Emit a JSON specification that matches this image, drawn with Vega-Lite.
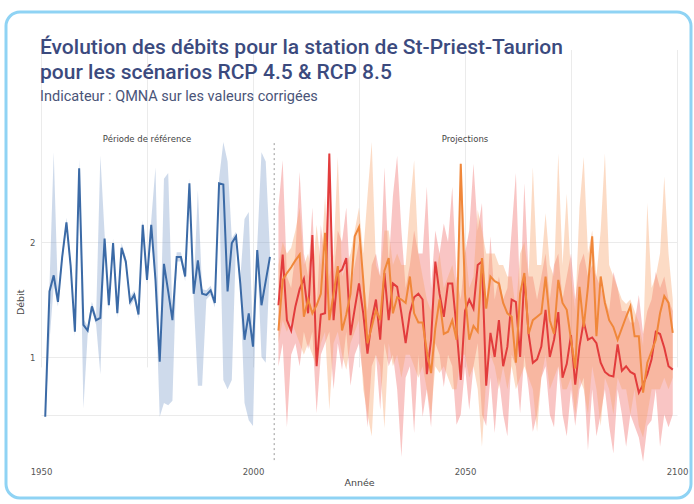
{
  "$schema": "https://vega.github.io/schema/vega-lite/v6.json",
  "autosize": "none",
  "width": 685,
  "height": 486,
  "padding": {"left": 6, "top": 12, "right": 3, "bottom": 6},
  "background": "white",
  "config": {
    "view": {"stroke": "#8fd3f4", "strokeWidth": 3, "cornerRadius": 14, "fill": "white"},
    "axis": {"domain": false, "ticks": false, "gridColor": "#ebebeb", "labelColor": "#555555", "titleColor": "#444444", "labelFont": "DejaVu Sans", "titleFont": "DejaVu Sans", "labelFontSize": 8.5, "titleFontSize": 9.5, "titleFontWeight": "normal"}
  },
  "title": {
    "text": ["Évolution des débits pour la station de St-Priest-Taurion", "pour les scénarios RCP 4.5 & RCP 8.5"],
    "subtitle": "Indicateur : QMNA sur les valeurs corrigées",
    "anchor": "start", "frame": "group", "orient": "top",
    "dx": 34, "offset": -91,
    "font": "Roboto", "fontSize": 21, "fontWeight": 500, "color": "#3b4a7e", "lineHeight": 25,
    "subtitleFont": "Roboto", "subtitleFontSize": 14.5, "subtitleColor": "#4a5478", "subtitlePadding": 7
  },
  "datasets": {
    "series": [
      {"annee":1951,"scenario":"Référence","debit":0.48,"min":0.47,"max":0.50},
      {"annee":1952,"scenario":"Référence","debit":1.57,"min":1.13,"max":1.62},
      {"annee":1953,"scenario":"Référence","debit":1.71,"min":1.62,"max":2.78},
      {"annee":1954,"scenario":"Référence","debit":1.48,"min":1.44,"max":1.53},
      {"annee":1955,"scenario":"Référence","debit":1.87,"min":1.83,"max":1.91},
      {"annee":1956,"scenario":"Référence","debit":2.17,"min":2.12,"max":2.21},
      {"annee":1957,"scenario":"Référence","debit":1.79,"min":1.75,"max":1.83},
      {"annee":1958,"scenario":"Référence","debit":1.22,"min":1.18,"max":1.26},
      {"annee":1959,"scenario":"Référence","debit":2.64,"min":2.58,"max":2.72},
      {"annee":1960,"scenario":"Référence","debit":1.28,"min":0.55,"max":1.33},
      {"annee":1961,"scenario":"Référence","debit":1.23,"min":1.19,"max":1.27},
      {"annee":1962,"scenario":"Référence","debit":1.44,"min":1.40,"max":1.48},
      {"annee":1963,"scenario":"Référence","debit":1.32,"min":1.28,"max":1.36},
      {"annee":1964,"scenario":"Référence","debit":1.34,"min":0.85,"max":2.75},
      {"annee":1965,"scenario":"Référence","debit":2.03,"min":1.99,"max":2.07},
      {"annee":1966,"scenario":"Référence","debit":1.45,"min":1.41,"max":1.49},
      {"annee":1967,"scenario":"Référence","debit":1.99,"min":1.95,"max":2.03},
      {"annee":1968,"scenario":"Référence","debit":1.38,"min":1.34,"max":1.42},
      {"annee":1969,"scenario":"Référence","debit":1.95,"min":1.91,"max":1.99},
      {"annee":1970,"scenario":"Référence","debit":1.83,"min":1.79,"max":1.87},
      {"annee":1971,"scenario":"Référence","debit":1.48,"min":1.44,"max":1.52},
      {"annee":1972,"scenario":"Référence","debit":1.54,"min":1.50,"max":1.58},
      {"annee":1973,"scenario":"Référence","debit":1.37,"min":1.33,"max":1.41},
      {"annee":1974,"scenario":"Référence","debit":2.15,"min":2.11,"max":2.19},
      {"annee":1975,"scenario":"Référence","debit":1.67,"min":1.63,"max":1.71},
      {"annee":1976,"scenario":"Référence","debit":2.15,"min":2.11,"max":2.19},
      {"annee":1977,"scenario":"Référence","debit":1.67,"min":1.60,"max":2.65},
      {"annee":1978,"scenario":"Référence","debit":0.96,"min":0.48,"max":1.00},
      {"annee":1979,"scenario":"Référence","debit":1.81,"min":0.60,"max":2.55},
      {"annee":1980,"scenario":"Référence","debit":1.57,"min":0.58,"max":2.60},
      {"annee":1981,"scenario":"Référence","debit":1.32,"min":0.62,"max":1.36},
      {"annee":1982,"scenario":"Référence","debit":1.87,"min":1.83,"max":1.91},
      {"annee":1983,"scenario":"Référence","debit":1.87,"min":1.83,"max":1.91},
      {"annee":1984,"scenario":"Référence","debit":1.70,"min":1.66,"max":1.74},
      {"annee":1985,"scenario":"Référence","debit":2.51,"min":2.47,"max":2.55},
      {"annee":1986,"scenario":"Référence","debit":1.55,"min":1.51,"max":1.59},
      {"annee":1987,"scenario":"Référence","debit":1.84,"min":0.75,"max":2.45},
      {"annee":1988,"scenario":"Référence","debit":1.55,"min":0.75,"max":1.59},
      {"annee":1989,"scenario":"Référence","debit":1.54,"min":1.50,"max":1.58},
      {"annee":1990,"scenario":"Référence","debit":1.58,"min":1.54,"max":1.62},
      {"annee":1991,"scenario":"Référence","debit":1.47,"min":1.43,"max":1.51},
      {"annee":1992,"scenario":"Référence","debit":2.51,"min":2.47,"max":2.55},
      {"annee":1993,"scenario":"Référence","debit":2.50,"min":0.80,"max":2.87},
      {"annee":1994,"scenario":"Référence","debit":1.57,"min":0.72,"max":2.70},
      {"annee":1995,"scenario":"Référence","debit":1.99,"min":0.80,"max":2.03},
      {"annee":1996,"scenario":"Référence","debit":2.05,"min":2.01,"max":2.09},
      {"annee":1997,"scenario":"Référence","debit":1.64,"min":1.60,"max":1.68},
      {"annee":1998,"scenario":"Référence","debit":1.15,"min":0.60,"max":2.20},
      {"annee":1999,"scenario":"Référence","debit":1.38,"min":0.45,"max":2.26},
      {"annee":2000,"scenario":"Référence","debit":1.09,"min":0.40,"max":1.13},
      {"annee":2001,"scenario":"Référence","debit":1.93,"min":1.89,"max":1.97},
      {"annee":2002,"scenario":"Référence","debit":1.45,"min":1.00,"max":2.78},
      {"annee":2003,"scenario":"Référence","debit":1.66,"min":0.95,"max":2.70},
      {"annee":2004,"scenario":"Référence","debit":1.87,"min":1.83,"max":1.91},
      {"annee":2006,"scenario":"RCP 8.5","debit":1.45,"min":0.92,"max":2.30},{"annee":2006,"scenario":"RCP 4.5","debit":1.23,"min":1.12,"max":1.80},
      {"annee":2007,"scenario":"RCP 8.5","debit":1.89,"min":1.12,"max":2.71},{"annee":2007,"scenario":"RCP 4.5","debit":1.67,"min":1.32,"max":2.00},
      {"annee":2008,"scenario":"RCP 8.5","debit":1.32,"min":0.39,"max":1.70},{"annee":2008,"scenario":"RCP 4.5","debit":1.73,"min":1.22,"max":1.90},
      {"annee":2009,"scenario":"RCP 8.5","debit":1.23,"min":1.02,"max":1.60},{"annee":2009,"scenario":"RCP 4.5","debit":1.78,"min":1.32,"max":1.95},
      {"annee":2010,"scenario":"RCP 8.5","debit":1.44,"min":1.12,"max":1.90},{"annee":2010,"scenario":"RCP 4.5","debit":1.84,"min":1.22,"max":2.10},
      {"annee":2011,"scenario":"RCP 8.5","debit":1.59,"min":0.92,"max":2.61},{"annee":2011,"scenario":"RCP 4.5","debit":1.89,"min":1.12,"max":2.30},
      {"annee":2012,"scenario":"RCP 8.5","debit":1.68,"min":1.22,"max":1.90},{"annee":2012,"scenario":"RCP 4.5","debit":1.35,"min":1.02,"max":1.80},
      {"annee":2013,"scenario":"RCP 8.5","debit":1.38,"min":1.07,"max":1.70},{"annee":2013,"scenario":"RCP 4.5","debit":1.50,"min":1.12,"max":1.90},
      {"annee":2014,"scenario":"RCP 8.5","debit":2.06,"min":1.22,"max":2.30},{"annee":2014,"scenario":"RCP 4.5","debit":1.38,"min":1.02,"max":1.70},
      {"annee":2015,"scenario":"RCP 8.5","debit":0.92,"min":0.51,"max":1.40},{"annee":2015,"scenario":"RCP 4.5","debit":1.45,"min":0.92,"max":2.15},
      {"annee":2016,"scenario":"RCP 8.5","debit":1.37,"min":1.02,"max":2.15},{"annee":2016,"scenario":"RCP 4.5","debit":1.55,"min":1.12,"max":1.80},
      {"annee":2017,"scenario":"RCP 8.5","debit":1.38,"min":1.12,"max":1.80},{"annee":2017,"scenario":"RCP 4.5","debit":2.08,"min":1.22,"max":2.40},
      {"annee":2018,"scenario":"RCP 8.5","debit":2.77,"min":1.22,"max":2.80},{"annee":2018,"scenario":"RCP 4.5","debit":1.32,"min":0.54,"max":1.70},
      {"annee":2019,"scenario":"RCP 8.5","debit":1.32,"min":0.72,"max":1.70},{"annee":2019,"scenario":"RCP 4.5","debit":1.55,"min":1.12,"max":1.90},
      {"annee":2020,"scenario":"RCP 8.5","debit":1.73,"min":1.12,"max":2.10},{"annee":2020,"scenario":"RCP 4.5","debit":1.79,"min":1.22,"max":2.74},
      {"annee":2021,"scenario":"RCP 8.5","debit":1.76,"min":0.89,"max":2.00},{"annee":2021,"scenario":"RCP 4.5","debit":1.23,"min":1.02,"max":1.70},
      {"annee":2022,"scenario":"RCP 8.5","debit":1.86,"min":1.22,"max":2.30},{"annee":2022,"scenario":"RCP 4.5","debit":1.37,"min":0.89,"max":1.80},
      {"annee":2023,"scenario":"RCP 8.5","debit":1.19,"min":0.75,"max":1.60},{"annee":2023,"scenario":"RCP 4.5","debit":1.55,"min":1.12,"max":1.90},
      {"annee":2024,"scenario":"RCP 8.5","debit":1.42,"min":1.02,"max":1.80},{"annee":2024,"scenario":"RCP 4.5","debit":2.05,"min":1.22,"max":2.10},
      {"annee":2025,"scenario":"RCP 8.5","debit":1.64,"min":1.12,"max":2.00},{"annee":2025,"scenario":"RCP 4.5","debit":2.13,"min":1.32,"max":2.30},
      {"annee":2026,"scenario":"RCP 8.5","debit":1.38,"min":0.82,"max":1.70},{"annee":2026,"scenario":"RCP 4.5","debit":1.67,"min":0.72,"max":1.90},
      {"annee":2027,"scenario":"RCP 8.5","debit":1.03,"min":0.39,"max":1.40},{"annee":2027,"scenario":"RCP 4.5","debit":1.12,"min":0.50,"max":2.40},
      {"annee":2028,"scenario":"RCP 8.5","debit":1.32,"min":0.92,"max":1.80},{"annee":2028,"scenario":"RCP 4.5","debit":1.26,"min":0.31,"max":2.87},
      {"annee":2029,"scenario":"RCP 8.5","debit":1.50,"min":1.02,"max":1.90},{"annee":2029,"scenario":"RCP 4.5","debit":1.41,"min":1.02,"max":1.80},
      {"annee":2030,"scenario":"RCP 8.5","debit":1.15,"min":0.54,"max":1.70},{"annee":2030,"scenario":"RCP 4.5","debit":1.32,"min":0.92,"max":1.70},
      {"annee":2031,"scenario":"RCP 8.5","debit":1.73,"min":1.12,"max":2.65},{"annee":2031,"scenario":"RCP 4.5","debit":1.75,"min":0.38,"max":2.10},
      {"annee":2032,"scenario":"RCP 8.5","debit":1.32,"min":0.92,"max":1.80},{"annee":2032,"scenario":"RCP 4.5","debit":1.86,"min":1.12,"max":2.10},
      {"annee":2033,"scenario":"RCP 8.5","debit":1.64,"min":1.02,"max":2.40},{"annee":2033,"scenario":"RCP 4.5","debit":1.38,"min":0.92,"max":1.80},
      {"annee":2034,"scenario":"RCP 8.5","debit":1.61,"min":0.72,"max":2.75},{"annee":2034,"scenario":"RCP 4.5","debit":1.52,"min":1.02,"max":1.90},
      {"annee":2035,"scenario":"RCP 8.5","debit":1.38,"min":0.13,"max":2.10},{"annee":2035,"scenario":"RCP 4.5","debit":1.50,"min":0.82,"max":1.80},
      {"annee":2036,"scenario":"RCP 8.5","debit":1.12,"min":0.82,"max":1.60},{"annee":2036,"scenario":"RCP 4.5","debit":1.47,"min":1.02,"max":1.80},
      {"annee":2037,"scenario":"RCP 8.5","debit":1.38,"min":0.92,"max":1.80},{"annee":2037,"scenario":"RCP 4.5","debit":1.70,"min":1.02,"max":2.30},
      {"annee":2038,"scenario":"RCP 8.5","debit":1.52,"min":0.34,"max":2.10},{"annee":2038,"scenario":"RCP 4.5","debit":1.38,"min":0.92,"max":2.71},
      {"annee":2039,"scenario":"RCP 8.5","debit":1.55,"min":1.02,"max":1.90},{"annee":2039,"scenario":"RCP 4.5","debit":1.30,"min":0.82,"max":1.90},
      {"annee":2040,"scenario":"RCP 8.5","debit":1.50,"min":0.48,"max":1.90},{"annee":2040,"scenario":"RCP 4.5","debit":1.30,"min":0.92,"max":1.70},
      {"annee":2041,"scenario":"RCP 8.5","debit":0.85,"min":0.72,"max":2.48},{"annee":2041,"scenario":"RCP 4.5","debit":1.05,"min":0.72,"max":1.50},
      {"annee":2042,"scenario":"RCP 8.5","debit":1.15,"min":0.39,"max":1.60},{"annee":2042,"scenario":"RCP 4.5","debit":0.86,"min":0.50,"max":1.40},
      {"annee":2043,"scenario":"RCP 8.5","debit":1.83,"min":1.12,"max":2.10},{"annee":2043,"scenario":"RCP 4.5","debit":1.25,"min":0.92,"max":1.70},
      {"annee":2044,"scenario":"RCP 8.5","debit":1.55,"min":1.02,"max":1.90},{"annee":2044,"scenario":"RCP 4.5","debit":1.50,"min":0.86,"max":1.90},
      {"annee":2045,"scenario":"RCP 8.5","debit":1.35,"min":0.74,"max":2.16},{"annee":2045,"scenario":"RCP 4.5","debit":1.20,"min":0.92,"max":1.60},
      {"annee":2046,"scenario":"RCP 8.5","debit":1.64,"min":1.02,"max":2.00},{"annee":2046,"scenario":"RCP 4.5","debit":1.22,"min":0.82,"max":1.70},
      {"annee":2047,"scenario":"RCP 8.5","debit":1.64,"min":0.92,"max":2.48},{"annee":2047,"scenario":"RCP 4.5","debit":1.32,"min":0.72,"max":1.80},
      {"annee":2048,"scenario":"RCP 8.5","debit":1.25,"min":0.41,"max":1.70},{"annee":2048,"scenario":"RCP 4.5","debit":1.15,"min":0.72,"max":1.60},
      {"annee":2049,"scenario":"RCP 8.5","debit":0.80,"min":0.50,"max":1.50},{"annee":2049,"scenario":"RCP 4.5","debit":2.68,"min":1.02,"max":2.70},
      {"annee":2050,"scenario":"RCP 8.5","debit":1.40,"min":0.92,"max":1.90},{"annee":2050,"scenario":"RCP 4.5","debit":1.55,"min":1.02,"max":2.00},
      {"annee":2051,"scenario":"RCP 8.5","debit":1.50,"min":0.54,"max":2.10},{"annee":2051,"scenario":"RCP 4.5","debit":1.15,"min":0.82,"max":1.60},
      {"annee":2052,"scenario":"RCP 8.5","debit":1.42,"min":0.92,"max":2.68},{"annee":2052,"scenario":"RCP 4.5","debit":1.27,"min":0.92,"max":1.70},
      {"annee":2053,"scenario":"RCP 8.5","debit":1.80,"min":1.12,"max":2.10},{"annee":2053,"scenario":"RCP 4.5","debit":1.22,"min":0.72,"max":2.28},
      {"annee":2054,"scenario":"RCP 8.5","debit":1.83,"min":0.50,"max":2.34},{"annee":2054,"scenario":"RCP 4.5","debit":1.86,"min":0.22,"max":2.10},
      {"annee":2055,"scenario":"RCP 8.5","debit":0.75,"min":0.40,"max":1.40},{"annee":2055,"scenario":"RCP 4.5","debit":1.42,"min":0.82,"max":1.90},
      {"annee":2056,"scenario":"RCP 8.5","debit":1.21,"min":0.82,"max":2.05},{"annee":2056,"scenario":"RCP 4.5","debit":1.70,"min":1.02,"max":1.90},
      {"annee":2057,"scenario":"RCP 8.5","debit":1.00,"min":0.34,"max":1.50},{"annee":2057,"scenario":"RCP 4.5","debit":1.66,"min":0.92,"max":1.90},
      {"annee":2058,"scenario":"RCP 8.5","debit":1.32,"min":0.82,"max":1.70},{"annee":2058,"scenario":"RCP 4.5","debit":1.64,"min":0.72,"max":1.80},
      {"annee":2059,"scenario":"RCP 8.5","debit":0.92,"min":0.50,"max":1.50},{"annee":2059,"scenario":"RCP 4.5","debit":1.47,"min":0.92,"max":1.80},
      {"annee":2060,"scenario":"RCP 8.5","debit":1.09,"min":0.31,"max":1.60},{"annee":2060,"scenario":"RCP 4.5","debit":1.38,"min":0.72,"max":1.70},
      {"annee":2061,"scenario":"RCP 8.5","debit":1.50,"min":1.02,"max":2.10},{"annee":2061,"scenario":"RCP 4.5","debit":1.35,"min":0.92,"max":1.70},
      {"annee":2062,"scenario":"RCP 8.5","debit":1.48,"min":0.92,"max":2.60},{"annee":2062,"scenario":"RCP 4.5","debit":0.95,"min":0.72,"max":1.40},
      {"annee":2063,"scenario":"RCP 8.5","debit":1.00,"min":0.51,"max":1.50},{"annee":2063,"scenario":"RCP 4.5","debit":1.55,"min":0.82,"max":1.90},
      {"annee":2064,"scenario":"RCP 8.5","debit":1.70,"min":1.02,"max":2.51},{"annee":2064,"scenario":"RCP 4.5","debit":1.73,"min":0.92,"max":2.00},
      {"annee":2065,"scenario":"RCP 8.5","debit":1.20,"min":0.72,"max":1.70},{"annee":2065,"scenario":"RCP 4.5","debit":1.20,"min":0.82,"max":1.70},
      {"annee":2066,"scenario":"RCP 8.5","debit":0.95,"min":0.35,"max":1.70},{"annee":2066,"scenario":"RCP 4.5","debit":1.32,"min":0.72,"max":2.65},
      {"annee":2067,"scenario":"RCP 8.5","debit":0.98,"min":0.50,"max":1.50},{"annee":2067,"scenario":"RCP 4.5","debit":1.35,"min":0.35,"max":1.80},
      {"annee":2068,"scenario":"RCP 8.5","debit":1.09,"min":0.82,"max":1.70},{"annee":2068,"scenario":"RCP 4.5","debit":1.38,"min":0.82,"max":1.80},
      {"annee":2069,"scenario":"RCP 8.5","debit":1.41,"min":0.92,"max":1.90},{"annee":2069,"scenario":"RCP 4.5","debit":1.70,"min":1.02,"max":2.25},
      {"annee":2070,"scenario":"RCP 8.5","debit":1.00,"min":0.50,"max":1.50},{"annee":2070,"scenario":"RCP 4.5","debit":1.32,"min":0.72,"max":1.80},
      {"annee":2071,"scenario":"RCP 8.5","debit":1.15,"min":0.39,"max":1.80},{"annee":2071,"scenario":"RCP 4.5","debit":1.20,"min":0.82,"max":1.70},
      {"annee":2072,"scenario":"RCP 8.5","debit":1.39,"min":0.92,"max":1.90},{"annee":2072,"scenario":"RCP 4.5","debit":1.67,"min":0.92,"max":2.77},
      {"annee":2073,"scenario":"RCP 8.5","debit":0.82,"min":0.50,"max":1.50},{"annee":2073,"scenario":"RCP 4.5","debit":1.47,"min":0.72,"max":1.80},
      {"annee":2074,"scenario":"RCP 8.5","debit":0.94,"min":0.31,"max":1.70},{"annee":2074,"scenario":"RCP 4.5","debit":1.41,"min":0.72,"max":2.42},
      {"annee":2075,"scenario":"RCP 8.5","debit":1.19,"min":0.72,"max":1.90},{"annee":2075,"scenario":"RCP 4.5","debit":1.15,"min":0.82,"max":1.70},
      {"annee":2076,"scenario":"RCP 8.5","debit":0.76,"min":0.40,"max":1.50},{"annee":2076,"scenario":"RCP 4.5","debit":0.90,"min":0.50,"max":1.40},
      {"annee":2077,"scenario":"RCP 8.5","debit":1.09,"min":0.72,"max":1.80},{"annee":2077,"scenario":"RCP 4.5","debit":1.61,"min":0.82,"max":2.30},
      {"annee":2078,"scenario":"RCP 8.5","debit":1.31,"min":0.82,"max":1.90},{"annee":2078,"scenario":"RCP 4.5","debit":1.26,"min":0.72,"max":2.74},
      {"annee":2079,"scenario":"RCP 8.5","debit":1.15,"min":0.19,"max":1.70},{"annee":2079,"scenario":"RCP 4.5","debit":1.61,"min":0.50,"max":1.90},
      {"annee":2080,"scenario":"RCP 8.5","debit":1.17,"min":0.72,"max":1.80},{"annee":2080,"scenario":"RCP 4.5","debit":2.05,"min":0.92,"max":2.10},
      {"annee":2081,"scenario":"RCP 8.5","debit":1.12,"min":0.31,"max":1.70},{"annee":2081,"scenario":"RCP 4.5","debit":1.18,"min":0.72,"max":1.70},
      {"annee":2082,"scenario":"RCP 8.5","debit":0.95,"min":0.50,"max":1.60},{"annee":2082,"scenario":"RCP 4.5","debit":1.70,"min":0.40,"max":2.10},
      {"annee":2083,"scenario":"RCP 8.5","debit":0.87,"min":0.72,"max":1.50},{"annee":2083,"scenario":"RCP 4.5","debit":1.47,"min":0.82,"max":2.77},
      {"annee":2084,"scenario":"RCP 8.5","debit":0.84,"min":0.40,"max":1.40},{"annee":2084,"scenario":"RCP 4.5","debit":1.32,"min":0.72,"max":1.80},
      {"annee":2085,"scenario":"RCP 8.5","debit":0.83,"min":0.16,"max":1.74},{"annee":2085,"scenario":"RCP 4.5","debit":1.26,"min":0.50,"max":1.70},
      {"annee":2086,"scenario":"RCP 8.5","debit":1.11,"min":0.72,"max":1.60},{"annee":2086,"scenario":"RCP 4.5","debit":1.15,"min":0.82,"max":1.60},
      {"annee":2087,"scenario":"RCP 8.5","debit":0.88,"min":0.50,"max":1.40},{"annee":2087,"scenario":"RCP 4.5","debit":1.25,"min":0.72,"max":1.50},
      {"annee":2088,"scenario":"RCP 8.5","debit":0.92,"min":0.22,"max":1.40},{"annee":2088,"scenario":"RCP 4.5","debit":1.35,"min":0.72,"max":1.46},
      {"annee":2089,"scenario":"RCP 8.5","debit":0.87,"min":0.50,"max":1.30},{"annee":2089,"scenario":"RCP 4.5","debit":1.44,"min":0.50,"max":1.50},
      {"annee":2090,"scenario":"RCP 8.5","debit":0.85,"min":0.40,"max":1.30},{"annee":2090,"scenario":"RCP 4.5","debit":1.18,"min":0.72,"max":1.40},
      {"annee":2091,"scenario":"RCP 8.5","debit":0.69,"min":0.30,"max":1.54},{"annee":2091,"scenario":"RCP 4.5","debit":1.18,"min":0.40,"max":1.30},
      {"annee":2092,"scenario":"RCP 8.5","debit":0.76,"min":0.09,"max":1.20},{"annee":2092,"scenario":"RCP 4.5","debit":0.69,"min":0.30,"max":1.10},
      {"annee":2093,"scenario":"RCP 8.5","debit":0.85,"min":0.40,"max":1.40},{"annee":2093,"scenario":"RCP 4.5","debit":0.95,"min":0.50,"max":2.34},
      {"annee":2094,"scenario":"RCP 8.5","debit":0.98,"min":0.45,"max":1.50},{"annee":2094,"scenario":"RCP 4.5","debit":1.05,"min":0.72,"max":1.60},
      {"annee":2095,"scenario":"RCP 8.5","debit":1.22,"min":0.72,"max":1.74},{"annee":2095,"scenario":"RCP 4.5","debit":1.15,"min":0.72,"max":1.70},
      {"annee":2096,"scenario":"RCP 8.5","debit":1.20,"min":0.22,"max":1.60},{"annee":2096,"scenario":"RCP 4.5","debit":1.38,"min":0.72,"max":1.90},
      {"annee":2097,"scenario":"RCP 8.5","debit":1.08,"min":0.50,"max":1.70},{"annee":2097,"scenario":"RCP 4.5","debit":1.53,"min":0.82,"max":2.57},
      {"annee":2098,"scenario":"RCP 8.5","debit":0.92,"min":0.39,"max":1.50},{"annee":2098,"scenario":"RCP 4.5","debit":1.47,"min":0.72,"max":1.90},
      {"annee":2099,"scenario":"RCP 8.5","debit":0.89,"min":0.50,"max":1.40},{"annee":2099,"scenario":"RCP 4.5","debit":1.21,"min":0.82,"max":1.50}
    ],
    "separateur": [{"annee": 2005}],
    "periodes": [{"annee": 1975, "libelle": "Période de référence"}, {"annee": 2050, "libelle": "Projections"}]
  },
  "encoding": {
    "x": {
      "field": "annee", "type": "quantitative",
      "scale": {"domain": [1950, 2100], "range": [35, 671], "nice": false, "zero": false},
      "axis": {"title": "Année", "values": [1950, 1975, 2000, 2025, 2050, 2075, 2100], "labelExpr": "datum.value % 50 === 0 ? format(datum.value, 'd') : ''", "offset": -35, "labelPadding": 4, "labelDx": 2, "titlePadding": 2, "grid": true, "labelFlush": false}
    }
  },
  "layer": [
    {
      "data": {"name": "series"},
      "mark": {"type": "area", "interpolate": "linear"},
      "encoding": {
        "y": {"field": "min", "type": "quantitative",
          "scale": {"domain": [0.1, 2.86], "range": [448.5, 131.1], "nice": false, "zero": false},
          "axis": {"title": "Débit", "values": [0.5, 1, 2], "labelExpr": "datum.value === 1 || datum.value === 2 ? format(datum.value, 'd') : ''", "offset": -32, "labelPadding": 3, "titlePadding": 4, "grid": true}},
        "y2": {"field": "max"},
        "fill": {"field": "scenario", "type": "nominal", "legend": null,
          "scale": {"domain": ["Référence", "RCP 4.5", "RCP 8.5"], "range": ["#7f9fcb", "#f7a36a", "#ef6f6c"]}},
        "fillOpacity": {"field": "scenario", "type": "nominal", "legend": null,
          "scale": {"domain": ["Référence", "RCP 4.5", "RCP 8.5"], "range": [0.38, 0.4, 0.45]}}
      }
    },
    {
      "data": {"name": "series"},
      "mark": {"type": "line", "strokeWidth": 2, "interpolate": "linear"},
      "encoding": {
        "y": {"field": "debit", "type": "quantitative",
          "scale": {"domain": [0.1, 2.86], "range": [448.5, 131.1], "nice": false, "zero": false},
          "axis": {"title": "Débit", "values": [0.5, 1, 2], "labelExpr": "datum.value === 1 || datum.value === 2 ? format(datum.value, 'd') : ''", "offset": -32, "labelPadding": 3, "titlePadding": 4, "grid": true}},
        "color": {"field": "scenario", "type": "nominal", "legend": null,
          "scale": {"domain": ["Référence", "RCP 4.5", "RCP 8.5"], "range": ["#3b6aa6", "#f0873a", "#e23c3c"]}}
      }
    },
    {
      "data": {"name": "separateur"},
      "mark": {"type": "rule", "color": "#9a9a9a", "strokeDash": [2, 3], "strokeWidth": 1},
      "encoding": {
        "y": {"datum": 2.86, "type": "quantitative"},
        "y2": {"datum": 0.1}
      }
    },
    {
      "data": {"name": "periodes"},
      "mark": {"type": "text", "font": "DejaVu Sans", "fontSize": 8.5, "color": "#444444", "baseline": "middle", "align": "center"},
      "encoding": {
        "y": {"datum": 2.9, "type": "quantitative"},
        "text": {"field": "libelle", "type": "nominal"}
      }
    }
  ]
}
